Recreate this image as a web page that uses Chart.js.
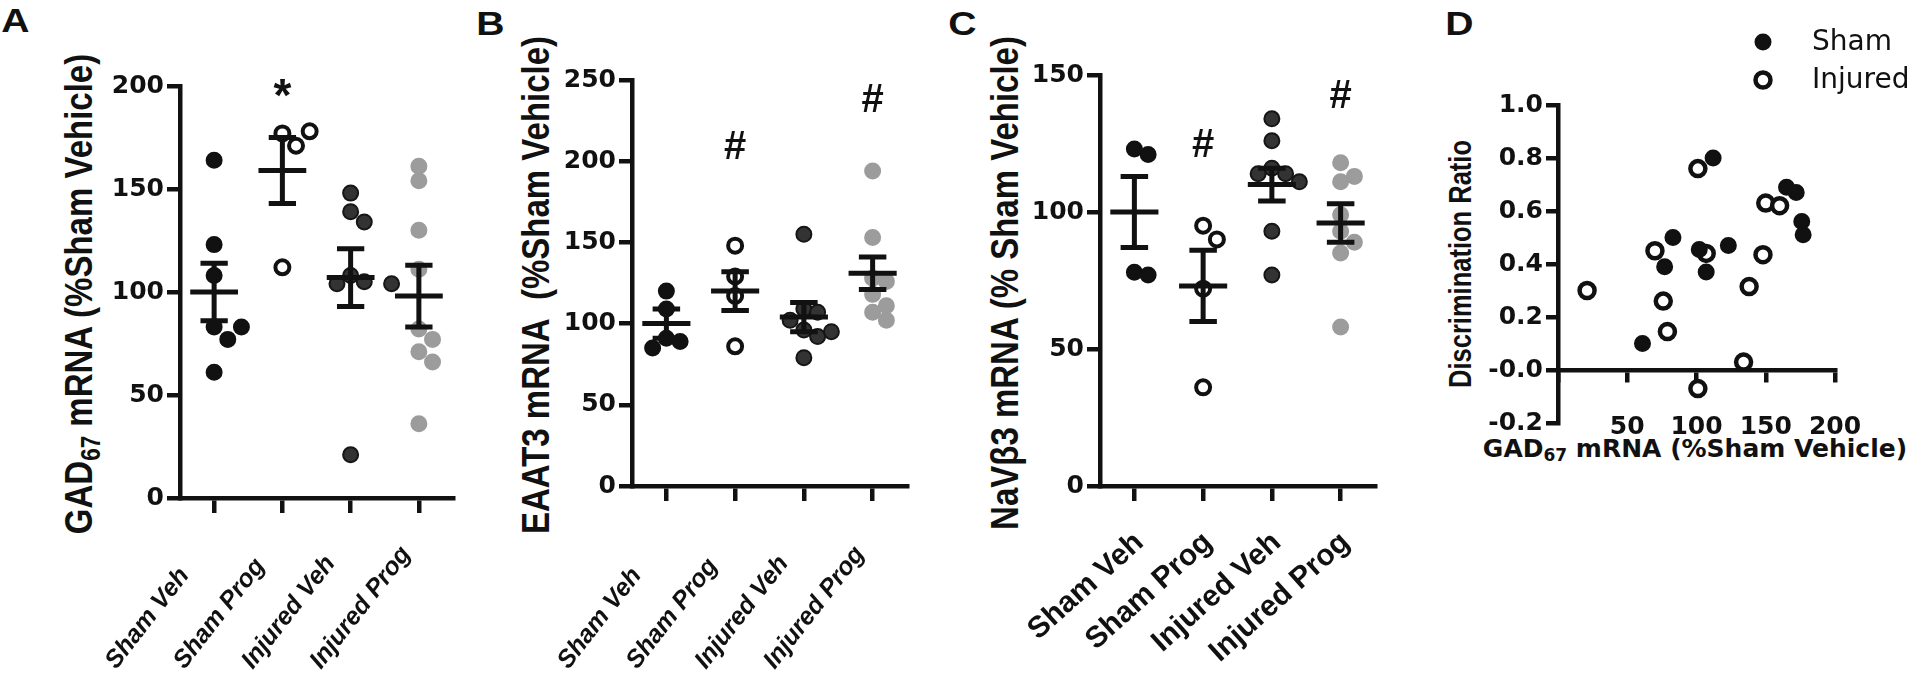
<!DOCTYPE html>
<html lang="en">
<head>
<meta charset="UTF-8">
<title>GAD67, EAAT3 and NaVβ3 mRNA</title>
<script src="https://cdn.jsdelivr.net/npm/chart.js"></script>
<style>
    body { margin: 0; background: #fff; width: 1920px; height: 677px; position: relative; overflow: hidden;
           font-family: "Liberation Sans", Arial, sans-serif; color: #111; }
    canvas { position: absolute; top: 0; }
    .letter { position: absolute; font-weight: bold; font-size: 34px; line-height: 34px; transform: scaleX(1.15); }
    .ytitle { position: absolute; font-weight: bold; font-size: 33px; white-space: nowrap;
              transform: translate(-50%, -50%) rotate(-90deg) scaleY(1.2); }
    .xtitle { position: absolute; font-family: "DejaVu Sans", sans-serif; font-weight: bold; font-size: 25px;
              white-space: nowrap; transform: translate(-50%, -50%); }
    sub { font-size: 68%; vertical-align: -0.28em; line-height: 0; }
</style>
</head>
<body>
    <div class="letter" style="left:3px; top:3px">A</div>
    <div class="letter" style="left:478px; top:6px">B</div>
    <div class="letter" style="left:950px; top:6px">C</div>
    <div class="letter" style="left:1447px; top:6px">D</div>

    <div class="ytitle" style="left:79px; top:294px">GAD<sub>67</sub> mRNA (%Sham Vehicle)</div>
    <div class="ytitle" style="left:536px; top:285px">EAAT3 mRNA&nbsp; (%Sham Vehicle)</div>
    <div class="ytitle" style="left:1005px; top:283px">NaVβ3 mRNA (% Sham Vehicle)</div>
    <div class="ytitle" style="left:1461px; top:264px; font-size:25.5px">Discrimination Ratio</div>
    <div class="xtitle" style="left:1695px; top:448px">GAD<sub>67</sub> mRNA (%Sham Vehicle)</div>

    <canvas id="chartA" width="465" height="677" style="left:0px"></canvas>
    <canvas id="chartB" width="465" height="677" style="left:465px"></canvas>
    <canvas id="chartC" width="490" height="677" style="left:930px"></canvas>
    <canvas id="chartD" width="500" height="677" style="left:1420px"></canvas>

<script>
    // groups on the x axis of A, B, C
    const groups = ['Sham Veh', 'Sham Prog', 'Injured Veh', 'Injured Prog'];

    // A - GAD67 mRNA (% sham vehicle)
    const gadShamVeh = [164, 123, 108, 83, 83, 77, 61];
    const gadShamProg = [177, 178, 171, 112];
    const gadInjVeh = [148, 139, 134, 108, 105, 104, 104, 21];
    const gadInjProg = [161, 154, 130, 111, 82, 77, 71, 66, 36];
    const gadMean = [100, 159, 107, 98];
    const gadSem = [14, 16, 14, 15];

    // B - EAAT3 mRNA
    const eaatShamVeh = [120, 109, 91, 89, 85];
    const eaatShamProg = [148, 129, 117, 86];
    const eaatInjVeh = [155, 109, 107, 102, 96, 95, 92, 79];
    const eaatInjProg = [194, 153, 128, 126, 118, 111, 107, 102];
    const eaatMean = [100, 120, 104, 131];
    const eaatSem = [9, 12, 9, 10];

    // C - NaVb3 mRNA
    const navShamVeh = [123, 121, 78, 77];
    const navShamProg = [95, 90, 72, 36];
    const navInjVeh = [134, 126, 116, 114, 114, 111, 93, 77];
    const navInjProg = [118, 113, 111, 99, 93, 89, 85, 58];
    const navMean = [100, 73, 110, 96];
    const navSem = [13, 13, 6, 7];

    // D - discrimination ratio vs GAD67
    const shamGad = [112, 83, 123, 102, 77, 107, 61, 165, 172, 176, 177];
    const shamRatio = [0.80, 0.50, 0.47, 0.455, 0.39, 0.37, 0.10, 0.69, 0.67, 0.56, 0.51];
    const injGad = [101, 150, 160, 70, 107, 148, 138, 21, 76, 79, 134, 101];
    const injRatio = [0.76, 0.63, 0.62, 0.45, 0.44, 0.435, 0.315, 0.30, 0.26, 0.145, 0.03, -0.07];

    Chart.defaults.animation = false;
    Chart.defaults.color = '#111';
    Chart.defaults.font.family = '"Liberation Sans", Arial, sans-serif';
    Chart.defaults.plugins.legend.display = false;
    Chart.defaults.plugins.tooltip.enabled = false;

    const ink = '#111';
    const groupStyle = [
        { bg: '#111', border: '#111', bw: 2, r: 7.5 },
        { bg: '#fff', border: '#111', bw: 4, r: 7 },
        { bg: '#333', border: '#161616', bw: 2, r: 7.5 },
        { bg: '#9c9c9c', border: '#9c9c9c', bw: 2, r: 7.5 }
    ];

    // spread points that would overlap sideways, like a column scatter
    function swarm(values, pxPerUnit, pxPerCat) {
        const placed = [];
        const step = 0.2;
        return values.map(v => {
            const y = v * pxPerUnit;
            let off = 0;
            for (let k = 0; k < 15; k++) {
                off = k === 0 ? 0 : (k % 2 ? 1 : -1) * Math.ceil(k / 2) * step;
                const hit = placed.some(p => Math.hypot((p.off - off) * pxPerCat, p.y - y) < 14);
                if (!hit) break;
            }
            placed.push({ off: off, y: y });
            return off;
        });
    }

    // mean line + SEM whiskers as one broken line
    function errorBars(mean, sem) {
        const pts = [];
        mean.forEach((m, i) => {
            const s = sem[i];
            pts.push({ x: i - 0.35, y: m }, { x: i + 0.35, y: m }, { x: i, y: null },
                { x: i, y: m + s }, { x: i, y: m - s }, { x: i, y: null },
                { x: i - 0.2, y: m + s }, { x: i + 0.2, y: m + s }, { x: i, y: null },
                { x: i - 0.2, y: m - s }, { x: i + 0.2, y: m - s }, { x: i, y: null });
        });
        return pts;
    }

    const notes = {
        id: 'notes',
        afterDatasetsDraw(chart, args, opts) {
            const ctx = chart.ctx;
            const x = chart.scales.x, y = chart.scales.y;
            ctx.save();
            ctx.fillStyle = ink;
            ctx.textAlign = 'center';
            ctx.textBaseline = 'middle';
            (opts.items || []).forEach(n => {
                ctx.font = 'bold ' + n.size + 'px "Liberation Sans", Arial, sans-serif';
                ctx.fillText(n.text, x.getPixelForValue(n.x), y.getPixelForValue(n.y));
            });
            ctx.restore();
        }
    };

    // slanted group names whose lower ends line up (A and B)
    const slantLabels = {
        id: 'slantLabels',
        afterDraw(chart, args, opts) {
            if (!opts.rot) return;
            const ctx = chart.ctx, x = chart.scales.x;
            ctx.save();
            ctx.fillStyle = ink;
            ctx.font = 'italic bold ' + opts.size + 'px "Liberation Sans", Arial, sans-serif';
            ctx.textAlign = 'left';
            ctx.textBaseline = 'alphabetic';
            x.ticks.forEach(t => {
                ctx.save();
                ctx.translate(x.getPixelForValue(t.value) + opts.dx, opts.y);
                ctx.rotate(-opts.rot * Math.PI / 180);
                ctx.fillText(groups[t.value], 0, 0);
                ctx.restore();
            });
            ctx.restore();
        }
    };

    function groupChart(id, values, mean, sem, yMax, yStep, area, lab, items) {
        const pxPerUnit = (area.bottom - area.top) / yMax;
        const pxPerCat = (area.right - area.left) / 4;
        const datasets = [{
            type: 'line', showLine: true, data: errorBars(mean, sem), borderColor: ink, borderWidth: 5,
            pointRadius: 0, spanGaps: false, borderCapStyle: 'butt'
        }];
        values.forEach((vals, i) => {
            const offs = swarm(vals, pxPerUnit, pxPerCat);
            const st = groupStyle[i];
            datasets.push({
                label: groups[i],
                data: vals.map((v, j) => ({ x: i + offs[j], y: v })),
                backgroundColor: st.bg, borderColor: st.border, borderWidth: st.bw,
                pointRadius: st.r, clip: false
            });
        });

        return new Chart(document.getElementById(id), {
            type: 'scatter',
            data: { datasets: datasets },
            plugins: [notes, slantLabels],
            options: {
                responsive: false,
                devicePixelRatio: 1,
                layout: { padding: { left: 0, top: area.top, right: area.w - area.right, bottom: 0 } },
                plugins: { notes: { items: items }, slantLabels: lab.slant ? lab : {} },
                scales: {
                    x: {
                        type: 'linear', min: -0.5, max: 3.5,
                        afterBuildTicks: s => { s.ticks = groups.map((g, i) => ({ value: i })); },
                        afterFit: s => { s.height = 677 - area.bottom; },
                        ticks: {
                            display: !lab.slant,
                            callback: v => groups[v], autoSkip: false, minRotation: lab.rot, maxRotation: lab.rot,
                            padding: lab.pad || 0, labelOffset: lab.shift || 0, color: ink,
                            font: { size: lab.size, weight: 'bold' }
                        },
                        grid: { drawOnChartArea: false, tickLength: 15, color: ink, lineWidth: 4.5 },
                        border: { color: ink, width: 4.5 }
                    },
                    y: {
                        min: 0, max: yMax,
                        afterFit: s => { s.width = area.left; },
                        ticks: { stepSize: yStep, padding: 3, color: ink,
                                 font: { family: '"DejaVu Sans", sans-serif', size: 25, weight: 'bold' } },
                        grid: { drawOnChartArea: false, tickLength: 13, color: ink, lineWidth: 4.5 },
                        border: { color: ink, width: 4.5 }
                    }
                }
            }
        });
    }

    const slanted = { slant: true, rot: 52, size: 25, dx: -98, y: 670 };
    const upright = { slant: false, rot: 42, size: 30, pad: 24, shift: 5 };

    groupChart('chartA', [gadShamVeh, gadShamProg, gadInjVeh, gadInjProg], gadMean, gadSem, 200, 50,
        { w: 465, left: 180, right: 453, top: 86, bottom: 498 }, slanted,
        [{ x: 1, y: 194, text: '*', size: 46 }]);

    groupChart('chartB', [eaatShamVeh, eaatShamProg, eaatInjVeh, eaatInjProg], eaatMean, eaatSem, 250, 50,
        { w: 465, left: 167, right: 442, top: 80, bottom: 486 }, slanted,
        [{ x: 1, y: 208, text: '#', size: 40 }, { x: 3, y: 237, text: '#', size: 40 }]);

    groupChart('chartC', [navShamVeh, navShamProg, navInjVeh, navInjProg], navMean, navSem, 150, 50,
        { w: 490, left: 170, right: 445, top: 75, bottom: 486 }, upright,
        [{ x: 1, y: 124, text: '#', size: 40 }, { x: 3, y: 142, text: '#', size: 40 }]);

    // legend for D, drawn from the datasets themselves
    const dotLegend = {
        id: 'dotLegend',
        afterDraw(chart, args, opts) {
            const ctx = chart.ctx;
            ctx.save();
            chart.data.datasets.forEach((ds, i) => {
                const cy = opts.y + i * opts.gap;
                ctx.beginPath();
                ctx.arc(opts.x, cy, ds.pointRadius, 0, Math.PI * 2);
                ctx.fillStyle = ds.backgroundColor;
                ctx.fill();
                ctx.lineWidth = ds.borderWidth;
                ctx.strokeStyle = ds.borderColor;
                ctx.stroke();
                ctx.fillStyle = ink;
                ctx.font = '28px "DejaVu Sans", sans-serif';
                ctx.textAlign = 'left';
                ctx.textBaseline = 'middle';
                ctx.fillText(ds.label, opts.x + opts.textGap, cy + 1);
            });
            ctx.restore();
        }
    };

    new Chart(document.getElementById('chartD'), {
        type: 'scatter',
        data: {
            datasets: [
                { label: 'Sham', data: shamGad.map((g, i) => ({ x: g, y: shamRatio[i] })),
                  backgroundColor: ink, borderColor: ink, borderWidth: 2, pointRadius: 7.5, clip: false },
                { label: 'Injured', data: injGad.map((g, i) => ({ x: g, y: injRatio[i] })),
                  backgroundColor: '#fff', borderColor: ink, borderWidth: 4.5, pointRadius: 7.5, clip: false }
            ]
        },
        plugins: [dotLegend],
        options: {
            responsive: false,
            devicePixelRatio: 1,
            layout: { padding: { left: 0, top: 105, right: 85, bottom: 254 } },
            plugins: { dotLegend: { x: 343, y: 42, gap: 38, textGap: 49 } },
            scales: {
                x: {
                    type: 'linear', min: 0, max: 200, position: { y: 0 },
                    ticks: { stepSize: 50, padding: 32, color: ink, callback: v => v === 0 ? '' : v,
                             font: { family: '"DejaVu Sans", sans-serif', size: 25, weight: 'bold' } },
                    grid: { drawOnChartArea: false, tickLength: 10, color: ink, lineWidth: 4.5 },
                    border: { color: ink, width: 4.5 }
                },
                y: {
                    min: -0.2, max: 1.0,
                    afterFit: s => { s.width = 138; },
                    ticks: { stepSize: 0.2, padding: 3, color: ink, callback: v => v.toFixed(1),
                             font: { family: '"DejaVu Sans", sans-serif', size: 25, weight: 'bold' } },
                    grid: { drawOnChartArea: false, tickLength: 12, color: ink, lineWidth: 4.5 },
                    border: { color: ink, width: 4.5 }
                }
            }
        }
    });
</script>
</body>
</html>
